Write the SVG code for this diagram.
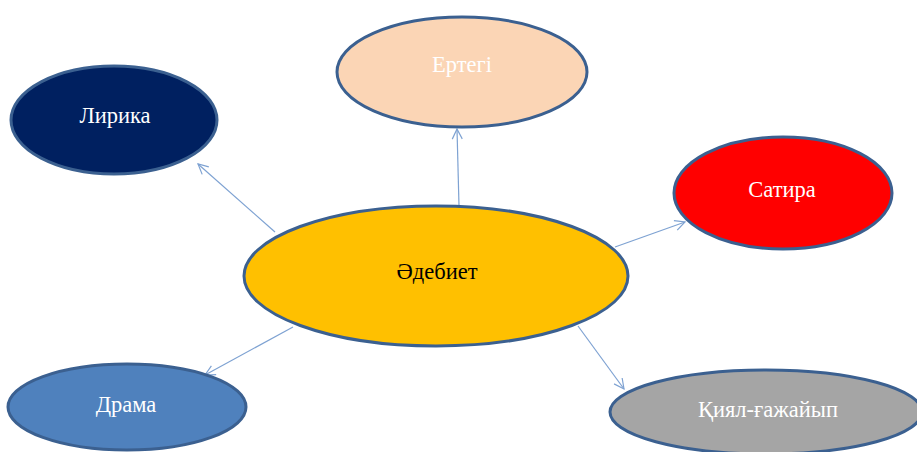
<svg xmlns="http://www.w3.org/2000/svg" width="917" height="452" viewBox="0 0 917 452">
<defs>
<style>
.n{stroke:#3b6090;stroke-width:3}
.t{font-family:"Liberation Serif","Times New Roman",serif;font-size:22.5px;text-anchor:middle;fill:#ffffff}
.c{stroke:#7ea2d2;stroke-width:1.2;fill:none;marker-end:url(#ah)}
</style>
<marker id="ah" viewBox="0 0 12 12" refX="11" refY="6" markerWidth="12" markerHeight="12" markerUnits="userSpaceOnUse" orient="auto">
<path d="M1,1 L11,6 L1,11" fill="none" stroke="#7ea2d2" stroke-width="1.2"/>
</marker>
</defs>
<rect width="917" height="452" fill="#ffffff"/>
<g id="connectors">
<line class="c" x1="275" y1="232" x2="198" y2="164"/>
<line class="c" x1="459" y1="206" x2="457" y2="129"/>
<line class="c" x1="615" y1="247" x2="685" y2="222"/>
<line class="c" x1="293" y1="327" x2="205" y2="375"/>
<line class="c" x1="578" y1="326" x2="624" y2="389"/>
</g>
<g id="lirika">
<ellipse class="n" cx="114" cy="120" rx="103" ry="54" fill="#002060"/>
<text class="t" x="115" y="123">Лирика</text>
</g>
<g id="ertegi">
<ellipse class="n" cx="462" cy="72" rx="125" ry="55" fill="#fbd5b5"/>
<text class="t" x="462" y="72">Ертегі</text>
</g>
<g id="satira">
<ellipse class="n" cx="783" cy="193" rx="109" ry="56" fill="#ff0000"/>
<text class="t" x="782" y="197">Сатира</text>
</g>
<g id="drama">
<ellipse class="n" cx="127" cy="407" rx="119" ry="43" fill="#4f81bd"/>
<text class="t" x="126" y="412">Драма</text>
</g>
<g id="kiyal">
<ellipse class="n" cx="766" cy="412" rx="156" ry="42" fill="#a5a5a5"/>
<text class="t" x="768" y="417">Қиял-ғажайып</text>
</g>
<g id="adebiet">
<ellipse class="n" cx="436" cy="276" rx="192" ry="70" fill="#ffc000"/>
<text class="t" x="437" y="279" style="fill:#000000">Әдебиет</text>
</g>
</svg>
